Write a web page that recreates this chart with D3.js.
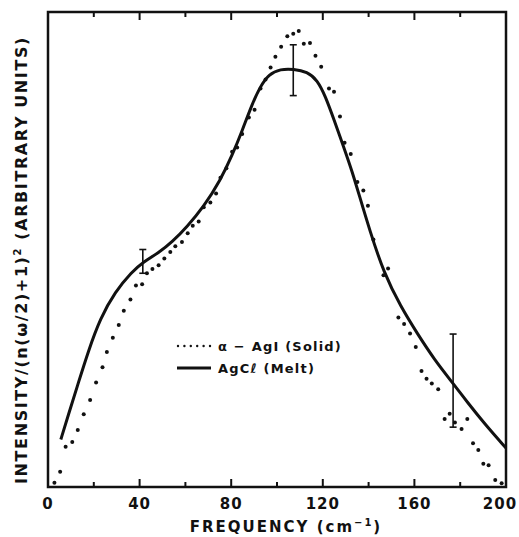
<!DOCTYPE html>
<html>
<head>
<meta charset="utf-8">
<script src="https://cdn.jsdelivr.net/npm/d3@7"></script>
<style>
  body { margin: 0; background: #fff; }
  text { font-family: "DejaVu Sans", sans-serif; font-weight: bold; fill: #111; }
</style>
</head>
<body>
<script>
var w = 519;
var h = 537;

// alpha-AgI (solid), dotted points
var agiFreq = [2.8, 5.3, 7.7, 10.6, 13.0, 15.6, 18.4, 21.0, 23.8, 25.7, 28.3, 30.9, 33.1, 36.0, 38.4, 41.1,
  43.2, 45.6, 48.3, 50.8, 53.4, 55.6, 58.5, 61.0, 63.2, 65.8, 68.0, 70.9, 73.4, 75.3, 77.9, 80.4,
  82.6, 84.8, 87.7, 90.2, 92.8, 95.0, 97.2, 99.3, 101.8, 104.5, 107.1, 109.5, 111.7, 114.4, 116.8, 119.3,
  122.7, 124.9, 127.5, 129.5, 132.2, 135.1, 137.7, 139.7, 142.1, 146.5, 148.5, 153.0, 155.5, 158.1,
  160.6, 163.1, 165.3, 167.6, 170.4, 173.2, 175.4, 177.7, 180.6, 183.1, 185.6, 187.9, 190.1, 192.4,
  195.3, 198.1];
var agiInt = [0.9, 3.2, 8.5, 9.5, 12.0, 15.3, 18.3, 22.0, 25.2, 28.4, 31.4, 34.1, 37.1, 39.5, 42.4, 42.7,
  45.0, 45.9, 46.7, 48.1, 49.5, 50.7, 51.6, 53.4, 55.0, 55.9, 58.9, 59.9, 61.8, 65.1, 67.1, 70.6,
  71.5, 74.3, 77.8, 79.4, 83.9, 85.8, 88.3, 90.6, 92.7, 94.9, 95.4, 96.0, 93.3, 93.5, 90.8, 88.5,
  83.9, 83.2, 78.0, 72.5, 70.1, 64.2, 62.4, 59.2, 52.1, 44.6, 46.0, 35.7, 34.3, 32.3,
  29.5, 24.4, 22.8, 21.8, 20.6, 14.3, 15.4, 13.6, 12.2, 14.3, 9.2, 7.8, 4.9, 4.6,
  1.5, 0.8];

// AgCl (melt), solid curve
var aglFreq = [5.6, 8.9, 13.3, 17.6, 22.8, 29.3, 36.6, 41.7, 48.3, 54.3, 60.7, 68.0, 75.3, 80.4, 84.8,
  89.1, 92.8, 96.4, 101.5, 107.3, 113.2, 117.6, 121.2, 124.9, 129.2, 132.9, 135.8, 140.5, 146.7,
  154.0, 161.4, 168.6, 176.9, 183.2, 190.5, 200];
var aglInt = [10.0, 15.2, 22.0, 28.6, 35.5, 41.1, 45.3, 47.4, 49.3, 51.6, 54.8, 59.0, 64.6, 69.8, 75.0,
  80.6, 84.4, 86.9, 88.0, 88.0, 87.4, 85.7, 82.2, 77.3, 71.5, 66.3, 61.6, 54.0, 45.0,
  38.0, 32.2, 26.9, 21.8, 17.8, 13.4, 8.2];

// error bars on the melt curve
var errFreq = [41.4, 107.1, 176.9];
var errLow = [45.0, 82.4, 12.6];
var errHigh = [50.0, 93.1, 32.2];

var majorTicks = [0, 40, 80, 120, 160, 200];
var minorTicks = [20, 60, 100, 140, 180];

var x = d3.scaleLinear().domain([0, 200]).range([48, 506]);
var y = d3.scaleLinear().domain([0, 100]).range([487, 12]);

var svg = d3.select("body").append("svg").attr("width", w).attr("height", h);

// frame
svg.append("rect")
  .attr("x", x(0)).attr("y", y(100))
  .attr("width", x(200) - x(0)).attr("height", y(0) - y(100))
  .attr("fill", "none").attr("stroke", "#111").attr("stroke-width", 2.5);

// inward ticks, bottom and top
var ticks = majorTicks.slice(1, -1).map(function(d) { return {v: d, len: 8}; })
  .concat(minorTicks.map(function(d) { return {v: d, len: 5}; }));

svg.append("g").selectAll("line.bt")
  .data(ticks).enter().append("line")
  .attr("x1", function(d) { return x(d.v); })
  .attr("x2", function(d) { return x(d.v); })
  .attr("y1", y(0))
  .attr("y2", function(d) { return y(0) - d.len; })
  .attr("stroke", "#111").attr("stroke-width", 2);

svg.append("g").selectAll("line.tt")
  .data(ticks).enter().append("line")
  .attr("x1", function(d) { return x(d.v); })
  .attr("x2", function(d) { return x(d.v); })
  .attr("y1", y(100))
  .attr("y2", function(d) { return y(100) + d.len; })
  .attr("stroke", "#111").attr("stroke-width", 2);

// tick labels (the last one sits a bit left so it stays on the page)
svg.append("g").selectAll("text")
  .data(majorTicks).enter().append("text")
  .attr("x", function(d) { return Math.min(x(d), 500); })
  .attr("y", 509)
  .attr("text-anchor", "middle")
  .style("font-size", "15px")
  .style("letter-spacing", "1px")
  .text(function(d) { return d; });

// axis titles
var xt = svg.append("text")
  .attr("x", 286).attr("y", 532)
  .attr("text-anchor", "middle")
  .style("font-size", "15px")
  .style("letter-spacing", "2px")
  .text("FREQUENCY (cm");
xt.append("tspan").attr("dy", -6).style("font-size", "10px").text("−1");
xt.append("tspan").attr("dy", 6).text(")");

var yt = svg.append("text")
  .attr("transform", "translate(27,260) rotate(-90)")
  .attr("text-anchor", "middle")
  .style("font-size", "16px")
  .style("letter-spacing", "1.6px")
  .text("INTENSITY/(n(ω/2)+1)");
yt.append("tspan").attr("dy", -6).style("font-size", "10px").text("2");
yt.append("tspan").attr("dy", 6).text(" (ARBITRARY UNITS)");

// AgCl melt curve
var line = d3.line()
  .x(function(d) { return x(d[0]); })
  .y(function(d) { return y(d[1]); })
  .curve(d3.curveBasis);

svg.append("path")
  .datum(d3.zip(aglFreq, aglInt))
  .attr("d", line)
  .attr("fill", "none").attr("stroke", "#111").attr("stroke-width", 3);

// error bars
var eb = svg.append("g").selectAll("g")
  .data(d3.range(errFreq.length)).enter().append("g");
eb.append("line")
  .attr("x1", function(i) { return x(errFreq[i]); })
  .attr("x2", function(i) { return x(errFreq[i]); })
  .attr("y1", function(i) { return y(errLow[i]); })
  .attr("y2", function(i) { return y(errHigh[i]); })
  .attr("stroke", "#111").attr("stroke-width", 1.6);
[errLow, errHigh].forEach(function(arr) {
  eb.append("line")
    .attr("x1", function(i) { return x(errFreq[i]) - 3.5; })
    .attr("x2", function(i) { return x(errFreq[i]) + 3.5; })
    .attr("y1", function(i) { return y(arr[i]); })
    .attr("y2", function(i) { return y(arr[i]); })
    .attr("stroke", "#111").attr("stroke-width", 1.6);
});

// alpha-AgI dots
svg.append("g").selectAll("circle")
  .data(d3.zip(agiFreq, agiInt)).enter().append("circle")
  .attr("cx", function(d) { return x(d[0]); })
  .attr("cy", function(d) { return y(d[1]); })
  .attr("r", 2)
  .attr("fill", "#111");

// legend
var leg = svg.append("g");
leg.selectAll("circle")
  .data(d3.range(6)).enter().append("circle")
  .attr("cx", function(i) { return 178 + i * 6.4; })
  .attr("cy", 346)
  .attr("r", 1.2)
  .attr("fill", "#111");
leg.append("line")
  .attr("x1", 177).attr("x2", 211)
  .attr("y1", 368).attr("y2", 368)
  .attr("stroke", "#111").attr("stroke-width", 3);
leg.append("text")
  .attr("x", 218).attr("y", 351)
  .style("font-size", "13px")
  .style("letter-spacing", "1.2px")
  .text("α − AgI (Solid)");
leg.append("text")
  .attr("x", 218).attr("y", 373)
  .style("font-size", "13px")
  .style("letter-spacing", "1.2px")
  .text("AgCℓ (Melt)");
</script>
</body>
</html>
